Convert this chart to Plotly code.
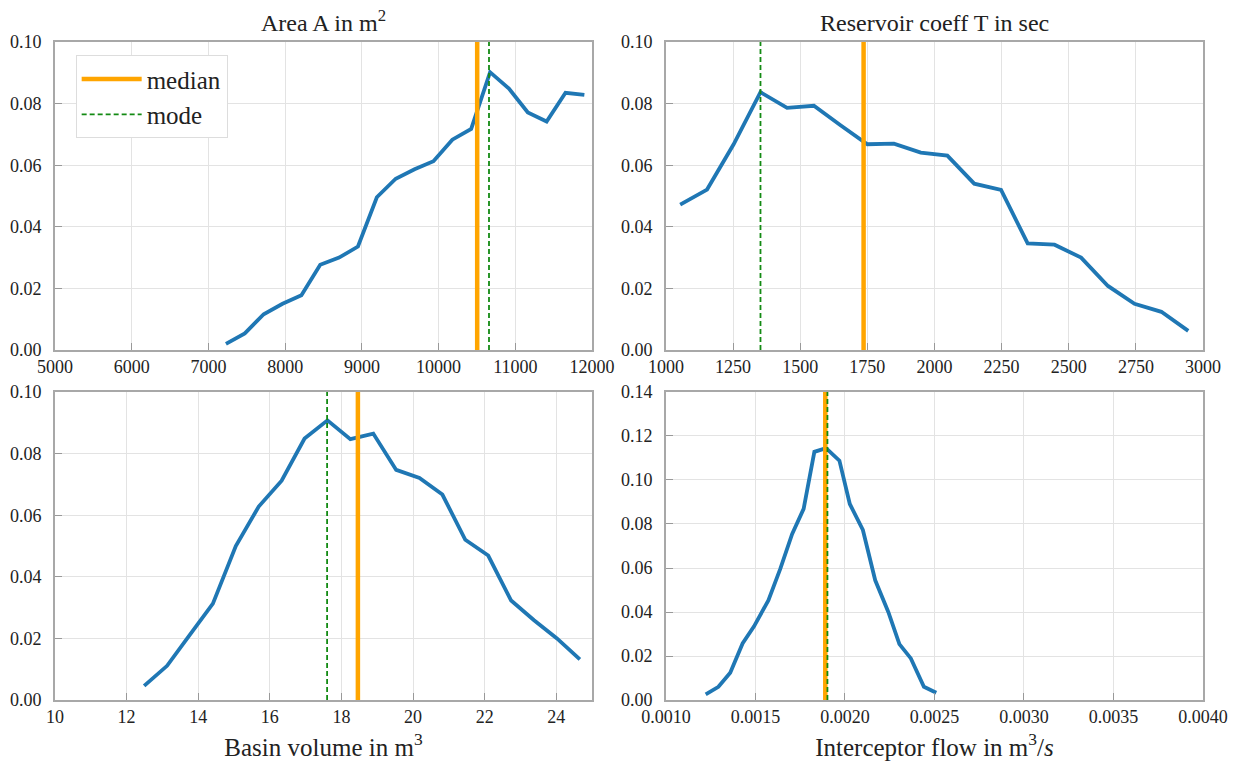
import plotly.graph_objects as go
from plotly.subplots import make_subplots

# ---------------- data ----------------
area_x = [7228, 7474, 7720, 7966, 8212, 8457, 8703, 8949, 9195, 9441,
          9687, 9933, 10179, 10425, 10671, 10917, 11163, 11408, 11654, 11900]
area_y = [0.0020, 0.0054, 0.0116, 0.0150, 0.0178, 0.0277, 0.0300, 0.0336, 0.0496, 0.0556,
          0.0587, 0.0613, 0.0683, 0.0718, 0.0902, 0.0849, 0.0771, 0.0742, 0.0835, 0.0828]
area_median = 10503
area_mode = 10657

res_x = [1053, 1153, 1252, 1352, 1451, 1551, 1650, 1750, 1849, 1949,
         2048, 2148, 2248, 2347, 2447, 2546, 2646, 2745, 2845, 2945]
res_y = [0.0472, 0.0521, 0.0668, 0.0837, 0.0786, 0.0793, 0.0730, 0.0668, 0.0670, 0.0641,
         0.0631, 0.0540, 0.0520, 0.0346, 0.0342, 0.0300, 0.0208, 0.0150, 0.0124, 0.0062]
res_median = 1736
res_mode = 1352

basin_x = [12.49, 13.13, 13.77, 14.41, 15.05, 15.69, 16.33, 16.97, 17.61, 18.25,
           18.89, 19.53, 20.18, 20.82, 21.46, 22.10, 22.74, 23.38, 24.02, 24.66]
basin_y = [0.0046, 0.0111, 0.0212, 0.0313, 0.0500, 0.0628, 0.0712, 0.0849, 0.0908, 0.0847,
           0.0865, 0.0747, 0.0721, 0.0667, 0.0520, 0.0469, 0.0323, 0.0259, 0.0200, 0.0132]
basin_median = 18.46
basin_mode = 17.60

flow_x = [0.001222, 0.001293, 0.001359, 0.001428, 0.001492, 0.001572, 0.001639, 0.001705,
          0.001769, 0.001829, 0.001894, 0.001969, 0.002027, 0.002100, 0.002169, 0.002242,
          0.002304, 0.002368, 0.002441, 0.002510]
flow_y = [0.0026, 0.0060, 0.0124, 0.0257, 0.0335, 0.0453, 0.0597, 0.0755, 0.0869, 0.1128,
          0.1145, 0.1088, 0.0891, 0.0773, 0.0544, 0.0400, 0.0254, 0.0189, 0.0060, 0.0033]
flow_median = 0.001890
flow_mode = 0.001902

titles_top = ["Area A in m<sup>2</sup>", "Reservoir coeff T in sec"]
titles_bottom = ["Basin volume in m<sup>3</sup>", "Interceptor flow in m<sup>3</sup>/<i>s</i>"]

# ---------------- figure ----------------
FONT = "Liberation Serif"
BLUE = "#1f77b4"
ORANGE = "#ffa500"
GREEN = "#138a13"
TXT = "#222222"

fig = make_subplots(rows=2, cols=2, horizontal_spacing=0.0644, vertical_spacing=0.0638)

panels = [
    (1, 1, area_x, area_y, area_median, area_mode, [5000, 12000], 1000, "d", [0, 0.10]),
    (1, 2, res_x, res_y, res_median, res_mode, [1000, 3000], 250, "d", [0, 0.10]),
    (2, 1, basin_x, basin_y, basin_median, basin_mode, [10, 25], 2, "d", [0, 0.10]),
    (2, 2, flow_x, flow_y, flow_median, flow_mode, [0.0010, 0.0040], 0.0005, ".4f", [0, 0.14]),
]

for i, (r, c, xs, ys, med, mo, xr, dx, xfmt, yr) in enumerate(panels):
    fig.add_trace(go.Scatter(x=xs, y=ys, mode="lines", line=dict(color=BLUE, width=3.8),
                             showlegend=False, hoverinfo="skip"), row=r, col=c)
    fig.add_trace(go.Scatter(x=[med, med], y=yr, mode="lines", name="median",
                             line=dict(color=ORANGE, width=4.5),
                             showlegend=(i == 0)), row=r, col=c)
    fig.add_trace(go.Scatter(x=[mo, mo], y=yr, mode="lines", name="mode",
                             line=dict(color=GREEN, width=1.8, dash="5px,3px"),
                             showlegend=(i == 0)), row=r, col=c)
    xa = dict(range=xr, dtick=dx, tick0=xr[0], tickformat=xfmt, automargin=False,
              showgrid=True, gridcolor="#e3e3e3", gridwidth=1,
              showline=True, linecolor="#a8a8a8", linewidth=1.6, mirror=True,
              ticks="inside", ticklen=7, tickcolor="#999999", tickwidth=1,
              zeroline=False, tickfont=dict(size=18, color=TXT, family=FONT))
    if r == 2:
        xa["title"] = dict(text=titles_bottom[c - 1],
                           font=dict(size=25, color=TXT, family=FONT), standoff=12)
    fig.update_xaxes(row=r, col=c, **xa)
    fig.update_yaxes(row=r, col=c, range=yr, dtick=0.02, tick0=0, tickformat=".2f",
                     automargin=False,
                     showgrid=True, gridcolor="#e3e3e3", gridwidth=1,
                     showline=True, linecolor="#a8a8a8", linewidth=1.6, mirror=True,
                     ticks="inside", ticklen=7, tickcolor="#999999", tickwidth=1,
                     ticklabelstandoff=8,
                     zeroline=False, tickfont=dict(size=18, color=TXT, family=FONT))

annotations = []
for c, t in enumerate(titles_top):
    dom = fig.layout["xaxis" if c == 0 else "xaxis2"].domain
    annotations.append(dict(text=t, x=(dom[0] + dom[1]) / 2, y=1.0, xref="paper", yref="paper",
                            xanchor="center", yanchor="bottom", yshift=4, showarrow=False,
                            font=dict(size=24, color=TXT, family=FONT)))

fig.update_layout(
    width=1233, height=769,
    margin=dict(l=55, r=30, t=42, b=69, autoexpand=False),
    paper_bgcolor="white", plot_bgcolor="white",
    font=dict(family=FONT, color=TXT),
    annotations=annotations,
    legend=dict(x=0.018, y=0.98, xanchor="left", yanchor="top",
                bgcolor="white", bordercolor="#dddddd", borderwidth=1,
                font=dict(size=25, color=TXT, family=FONT), itemwidth=60,
                tracegroupgap=0),
)

fig.write_html("out.html", config={"displayModeBar": False},
               post_script="document.body.style.margin='0px';document.body.style.overflow='hidden';")
